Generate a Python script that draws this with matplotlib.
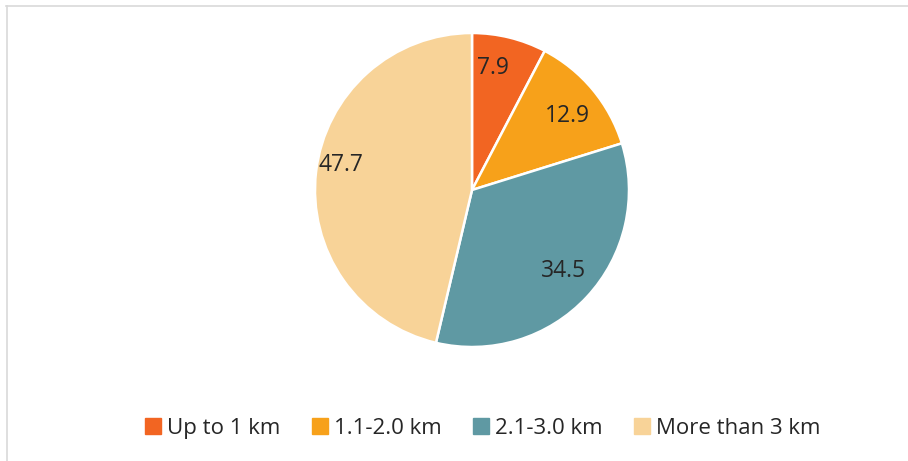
import matplotlib
matplotlib.use("Agg")
import matplotlib.pyplot as plt
from matplotlib.lines import Line2D
import numpy as np

categories = ["Up to 1 km", "1.1-2.0 km", "2.1-3.0 km", "More than 3 km"]
values = [7.9, 12.9, 34.5, 47.7]
colors = ["#F26522", "#F7A11A", "#5F99A3", "#F8D398"]

plt.rcParams['font.family'] = ['Open Sans', 'DejaVu Sans']

fig = plt.figure(figsize=(9.08, 4.61), dpi=100)
W, H = 908, 461
cx, cy, r = 472, 190, 157
ax = fig.add_axes([(cx - r) / W, 1 - (cy + r) / H, 2 * r / W, 2 * r / H])
wedges, texts = ax.pie(values, colors=colors, startangle=90, counterclock=False,
                       wedgeprops=dict(edgecolor="white", linewidth=1.8))
ax.set_aspect('equal')
ax.set_xlim(-1, 1)
ax.set_ylim(-1, 1)

# label placement tweaks (distance from centre, angular offset in degrees)
dists = [0.80, 0.775, 0.765, 0.855]
offs = [4.3, -1.2, 2.4, -4.9]
for w, v, d, o in zip(wedges, values, dists, offs):
    ang = np.deg2rad((w.theta1 + w.theta2) / 2 + o)
    ax.text(d * np.cos(ang), d * np.sin(ang) - 0.015, f"{v}", ha='center', va='center',
            fontsize=16.5, color='#262626')

handles = [Line2D([], [], marker='s', linestyle='none', markersize=11.5,
                  markerfacecolor=c, markeredgecolor=c) for c in colors]
fig.legend(handles, categories, loc='center', bbox_to_anchor=(483 / W, 1 - 428 / H),
           ncol=4, frameon=False, fontsize=16, handlelength=0.7, handletextpad=0.3,
           columnspacing=1.4, labelcolor='#262626')

# border lines (top and left)
fig.add_artist(Line2D([6 / W, 1], [1 - 6 / H, 1 - 6 / H], color='#D9D9D9', lw=1.2,
                      transform=fig.transFigure))
fig.add_artist(Line2D([6.5 / W, 6.5 / W], [0, 1 - 6 / H], color='#D9D9D9', lw=1.2,
                      transform=fig.transFigure))

fig.savefig("out.png", dpi=100)
